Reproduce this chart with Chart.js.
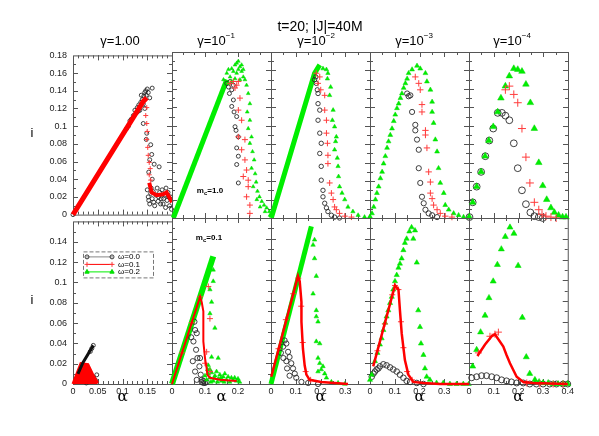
<!DOCTYPE html>
<html>
<head>
<meta charset="utf-8">
<script src="https://cdn.jsdelivr.net/npm/chart.js@4.4.0/dist/chart.umd.min.js"></script>
<style>
  body { margin: 0; background: #fff; width: 599px; height: 436px; position: relative; overflow: hidden;
         font-family: "Liberation Sans", Arial, sans-serif; }
  canvas { position: absolute; }
  .lbl { position: absolute; white-space: nowrap; transform: translate(-50%, -50%); color: #000; }
  .lbl sup { font-size: 8px; position: relative; top: -1px; }
  .mc { font-size: 8px; font-weight: bold; }
  .mc sub { font-size: 6px; }
</style>
</head>
<body>
<script>
// ===== t=20; |J|=40M  -- i versus alpha, 2 rows x 5 gamma columns =====

const legendNames = ["ω=0.0", "ω=0.1", "ω=0.2"];

// ---- top row (m_c = 1.0), pairs of [alpha, i] ----
const t1RedLine = [0,0, 0.142,0.128, 0.149,0.132];
const t1RedTail = [0.154,0.036, 0.159,0.025, 0.169,0.022, 0.182,0.023, 0.189,0.025, 0.195,0.019, 0.200,0.014];
const t1RedDrop = [0.149,0.121, 0.147,0.112, 0.149,0.103, 0.150,0.094, 0.149,0.085, 0.151,0.076, 0.152,0.067,
  0.154,0.059, 0.156,0.052, 0.154,0.045, 0.157,0.039];
const t1Black = [0.118,0.108, 0.122,0.112, 0.125,0.118, 0.128,0.115, 0.130,0.121, 0.133,0.124, 0.135,0.118,
  0.137,0.127, 0.140,0.130, 0.142,0.125, 0.143,0.134, 0.145,0.138, 0.147,0.140, 0.148,0.135, 0.150,0.142,
  0.152,0.138, 0.160,0.143, 0.155,0.132, 0.145,0.120, 0.138,0.135, 0.112,0.100, 0.108,0.097, 0.115,0.106,
  0.132,0.117, 0.142,0.103, 0.149,0.092, 0.157,0.079, 0.159,0.068, 0.164,0.057, 0.174,0.054, 0.153,0.048,
  0.160,0.040, 0.148,0.085, 0.155,0.062, 0.150,0.028, 0.152,0.020, 0.155,0.012, 0.158,0.030, 0.160,0.018,
  0.162,0.026, 0.165,0.010, 0.168,0.022, 0.170,0.030, 0.172,0.015, 0.175,0.025, 0.178,0.018, 0.180,0.028,
  0.182,0.012, 0.185,0.022, 0.188,0.030, 0.190,0.016, 0.192,0.025, 0.195,0.010, 0.197,0.020, 0.199,0.006,
  0.153,0.016, 0.163,0.014, 0.173,0.020, 0.183,0.018, 0.193,0.020, 0.157,0.024, 0.177,0.012, 0.187,0.008, 0,0];

const t2GreenLine = [0.004,0, 0.166,0.150];
const t2Green = [0.156,0.150, 0.166,0.157, 0.171,0.161, 0.176,0.153, 0.181,0.162, 0.186,0.159, 0.191,0.166,
  0.196,0.168, 0.201,0.170, 0.206,0.164, 0.196,0.157, 0.211,0.159, 0.216,0.153, 0.221,0.150, 0.226,0.144,
  0.206,0.150, 0.191,0.151, 0.181,0.148, 0.171,0.146, 0.216,0.161, 0.201,0.161, 0.211,0.166, 0.231,0.135,
  0.236,0.124, 0.228,0.115, 0.236,0.106, 0.231,0.097, 0.241,0.088, 0.236,0.081, 0.244,0.072, 0.249,0.063,
  0.241,0.054, 0.252,0.048, 0.255,0.039, 0.246,0.034, 0.259,0.029, 0.265,0.023, 0.272,0.018, 0.279,0.014,
  0.287,0.011, 0.295,0.007, 0.297,0.003, 0.267,0.012, 0.282,0.007, 0.257,0.020];
const t2Red = [0.176,0.146, 0.186,0.148, 0.196,0.144, 0.201,0.148, 0.191,0.141, 0.206,0.130, 0.201,0.117,
  0.211,0.106, 0.201,0.088, 0.211,0.074, 0.221,0.063, 0.226,0.052, 0.216,0.045, 0.231,0.034, 0.226,0.023,
  0.236,0.014, 0.236,0.005, 0.221,0.085, 0.231,0.041];
const t2Black = [0.166,0.146, 0.171,0.142, 0.176,0.148, 0.181,0.139, 0.186,0.144, 0.174,0.135, 0.186,0.128,
  0.181,0.121, 0.188,0.115, 0.196,0.110, 0.191,0.099, 0.201,0.088, 0.196,0.076, 0.201,0.067, 0.196,0.058,
  0.201,0.038, 0.194,0.095];

const t3GreenLine = [0.001,0, 0.176,0.157, 0.197,0.166];
const t3Green = [0.210,0.162, 0.230,0.157, 0.228,0.151, 0.241,0.142, 0.237,0.133, 0.251,0.117, 0.248,0.106,
  0.257,0.099, 0.264,0.088, 0.261,0.083, 0.271,0.056, 0.273,0.045, 0.277,0.034, 0.287,0.027, 0.298,0.020,
  0.311,0.012, 0.331,0.007, 0.352,0.003, 0.378,0.001, 0.398,0.001, 0.224,0.161, 0.257,0.074, 0.268,0.065];
const t3Red = [0.183,0.157, 0.190,0.146, 0.201,0.139, 0.217,0.133, 0.217,0.117, 0.224,0.106, 0.224,0.092,
  0.228,0.081, 0.230,0.068, 0.230,0.059, 0.237,0.038, 0.244,0.027, 0.251,0.020, 0.257,0.012, 0.264,0.009,
  0.277,0.005, 0.298,0.002, 0.325,0.001, 0.197,0.153];
const t3Black = [0.176,0.150, 0.183,0.146, 0.187,0.139, 0.190,0.135, 0.190,0.124, 0.197,0.117, 0.190,0.106,
  0.197,0.092, 0.203,0.081, 0.197,0.070, 0.203,0.056, 0.203,0.041, 0.210,0.030, 0.210,0.023, 0.217,0.016,
  0.224,0.011, 0.230,0.007, 0.244,0.003, 0.257,0.001, 0.277,0, 0.181,0.153];

const t4Green = [0.001,0.001, 0.008,0.005, 0.015,0.012, 0.022,0.020, 0.028,0.027, 0.035,0.034, 0.042,0.043,
  0.049,0.050, 0.055,0.059, 0.062,0.067, 0.069,0.076, 0.075,0.083, 0.082,0.090, 0.089,0.097, 0.096,0.105,
  0.102,0.112, 0.109,0.119, 0.116,0.124, 0.123,0.130, 0.129,0.135, 0.136,0.141, 0.143,0.146, 0.150,0.151,
  0.156,0.157, 0.170,0.161, 0.190,0.165, 0.203,0.162, 0.224,0.157, 0.230,0.148, 0.244,0.139, 0.251,0.126,
  0.251,0.115, 0.257,0.103, 0.264,0.085, 0.271,0.072, 0.277,0.054, 0.284,0.038, 0.298,0.027, 0.304,0.014,
  0.318,0.009, 0.338,0.005, 0.358,0.003, 0.378,0.001, 0.399,0.001];
const t4Red = [0.183,0.153, 0.197,0.146, 0.203,0.139, 0.210,0.123, 0.210,0.115, 0.224,0.095, 0.224,0.090,
  0.230,0.076, 0.237,0.050, 0.244,0.039, 0.244,0.027, 0.251,0.021, 0.257,0.014, 0.271,0.009, 0.284,0.005,
  0.304,0.002, 0.331,0.001];
const t4Black = [0.150,0.135, 0.156,0.132, 0.163,0.133, 0.170,0.115, 0.183,0.101, 0.183,0.095, 0.190,0.085,
  0.197,0.074, 0.197,0.054, 0.203,0.038, 0.210,0.023, 0.217,0.016, 0.224,0.009, 0.237,0.005, 0.251,0.003,
  0.271,0.001];

const t5Green = [0.001,0.001, 0.015,0.017, 0.031,0.034, 0.049,0.050, 0.065,0.067, 0.080,0.084, 0.098,0.099,
  0.116,0.115, 0.129,0.130, 0.147,0.143, 0.163,0.154, 0.181,0.162, 0.197,0.161, 0.214,0.159, 0.230,0.145,
  0.248,0.125, 0.264,0.097, 0.282,0.060, 0.298,0.035, 0.314,0.020, 0.331,0.011, 0.345,0.006, 0.362,0.003,
  0.378,0.001, 0.392,0.001];
const t5Red = [0.163,0.143, 0.147,0.139, 0.181,0.134, 0.197,0.125, 0.214,0.097, 0.230,0.066, 0.246,0.038,
  0.264,0.017, 0.282,0.009, 0.295,0.004, 0.311,0.002, 0.331,0.001, 0.352,0];
const t5Black = [0.002,0.001, 0.015,0.017, 0.031,0.034, 0.049,0.050, 0.066,0.067, 0.082,0.084, 0.098,0.097,
  0.116,0.114, 0.133,0.114, 0.147,0.111, 0.163,0.106, 0.181,0.081, 0.197,0.054, 0.214,0.030, 0.230,0.015,
  0.248,0.006, 0.264,0.002, 0.282,0.001, 0.298,0];

// ---- bottom row (m_c = 0.1) ----
const b1RedFill = [0,0, 0.016,0.020, 0.030,0.019, 0.042,0.007, 0.050,0.001];
const b1BlackLine = [0.010,0.010, 0.020,0.021, 0.041,0.038];
const b1Black = [0.038,0.035, 0.041,0.038, 0.035,0.032, 0.041,0.007, 0.048,0.009, 0.028,0.004, 0.034,0.003,
  0.025,0.002, 0.027,0.001, 0.030,0.002, 0.045,0.004, 0.022,0.003];

const b2GreenLine = [0,0, 0.125,0.123];
const b2Green = [0.125,0.110, 0.125,0.099, 0.115,0.091, 0.120,0.079, 0.115,0.068, 0.130,0.054, 0.120,0.026,
  0.140,0.025, 0.110,0.018, 0.115,0.014, 0.100,0.008, 0.105,0.004, 0.110,0.010, 0.115,0.006, 0.120,0.011,
  0.125,0.003, 0.130,0.008, 0.135,0.012, 0.140,0.005, 0.145,0.009, 0.150,0.003, 0.155,0.007, 0.160,0.010,
  0.165,0.004, 0.170,0.007, 0.175,0.002, 0.180,0.006, 0.185,0.004, 0.190,0.006, 0.195,0.003, 0.200,0.005,
  0.205,0.002, 0.108,0.014, 0.118,0.002, 0.128,0.006, 0.138,0.002, 0.148,0.006, 0.158,0.002];
const b2RedLine = [0,0, 0.085,0.084, 0.090,0.079, 0.095,0.070, 0.095,0.057, 0.095,0.041, 0.100,0.025,
  0.105,0.015, 0.107,0.009, 0.115,0.006, 0.145,0.004, 0.196,0.003];
const b2Red = [0.110,0.094, 0.115,0.063, 0.105,0.031, 0.100,0.020, 0.115,0.012, 0.085,0.084, 0.060,0.059, 0.030,0.030];
const b2Black = [0.070,0.052, 0.075,0.049, 0.065,0.041, 0.073,0.033, 0.077,0.025, 0.063,0.022, 0.083,0.017,
  0.070,0.012, 0.087,0.009, 0.075,0.004, 0.090,0.002, 0.095,0.001, 0.068,0.060, 0.058,0.045, 0.085,0.025,
  0.095,0.003, 0.100,0.001, 0.105,0.002, 0.090,0.004];

const b3GreenLine = [0,0, 0.163,0.152];
const b3Green = [0.176,0.139, 0.170,0.134, 0.176,0.121, 0.183,0.104, 0.170,0.087, 0.183,0.071, 0.183,0.065,
  0.190,0.060, 0.183,0.041, 0.197,0.039, 0.190,0.025, 0.197,0.020, 0.203,0.014, 0.217,0.010, 0.224,0.006,
  0.244,0.002, 0.271,0.001, 0.298,0, 0.190,0.012, 0.210,0.017];
const b3RedLine = [0.001,0.007, 0.109,0.104, 0.116,0.099, 0.123,0.079, 0.123,0.060, 0.129,0.034, 0.136,0.018,
  0.143,0.009, 0.156,0.004, 0.203,0.002, 0.257,0.001, 0.311,0];
const b3Red = [0.030,0.034, 0.060,0.062, 0.090,0.087, 0.110,0.102, 0.122,0.075, 0.128,0.040, 0.140,0.012, 0.160,0.004];
const b3Black = [0.055,0.042, 0.062,0.039, 0.049,0.036, 0.069,0.031, 0.075,0.026, 0.062,0.022, 0.082,0.020,
  0.089,0.015, 0.096,0.010, 0.102,0.006, 0.123,0.002, 0.150,0.001, 0.190,0, 0.040,0.030, 0.050,0.025,
  0.065,0.015, 0.075,0.008];

const b4Green = [0,0.004, 0.007,0.009, 0.020,0.022, 0.030,0.030, 0.040,0.038, 0.047,0.044, 0.054,0.052,
  0.061,0.059, 0.067,0.065, 0.074,0.071, 0.081,0.078, 0.088,0.084, 0.094,0.091, 0.101,0.099, 0.108,0.105,
  0.115,0.112, 0.121,0.116, 0.128,0.121, 0.135,0.129, 0.141,0.136, 0.148,0.140, 0.159,0.147, 0.168,0.151,
  0.182,0.148, 0.175,0.140, 0.189,0.117, 0.195,0.071, 0.202,0.055, 0.206,0.039, 0.216,0.028, 0.222,0.015,
  0.229,0.007, 0.242,0.004, 0.269,0.001, 0.296,0.001, 0.323,0, 0.350,0, 0.377,0, 0.399,0];
const b4RedLine = [0.013,0.017, 0.101,0.095, 0.115,0.091, 0.121,0.071, 0.128,0.049, 0.141,0.023, 0.155,0.009,
  0.175,0.002, 0.216,0.001, 0.283,0, 0.400,0];
const b4Red = [0.030,0.032, 0.060,0.058, 0.090,0.086, 0.101,0.095, 0.115,0.091, 0.125,0.060, 0.135,0.035,
  0.150,0.012, 0.170,0.004];
const b4Black = [0.007,0.007, 0.014,0.010, 0.020,0.012, 0.027,0.014, 0.034,0.015, 0.040,0.017, 0.054,0.019,
  0.067,0.018, 0.081,0.016, 0.094,0.014, 0.108,0.012, 0.121,0.009, 0.135,0.006, 0.148,0.003, 0.162,0.002,
  0.189,0.001, 0.216,0];

const b5Green = [0.015,0.017, 0.031,0.033, 0.047,0.050, 0.065,0.066, 0.081,0.083, 0.098,0.099, 0.115,0.115,
  0.131,0.130, 0.147,0.142, 0.166,0.151, 0.182,0.145, 0.199,0.114, 0.216,0.064, 0.232,0.026, 0.246,0.010,
  0.267,0.004, 0.284,0.002, 0.300,0.001, 0.321,0.001, 0.341,0, 0.361,0, 0.381,0, 0.400,0];
const b5RedLine = [0.034,0.027, 0.065,0.038, 0.092,0.046, 0.105,0.048, 0.139,0.036, 0.152,0.028, 0.166,0.020,
  0.193,0.007, 0.220,0.002, 0.260,0.001, 0.400,0];
const b5Red = [0.038,0.030, 0.085,0.046, 0.105,0.048, 0.119,0.050, 0.234,0.001, 0.287,0, 0.341,0, 0.381,0];
const b5Black = [0.011,0.006, 0.031,0.007, 0.051,0.008, 0.071,0.008, 0.092,0.007, 0.112,0.006, 0.132,0.004,
  0.152,0.003, 0.172,0.002, 0.193,0.001, 0.220,0.001, 0.246,0, 0.273,0, 0.300,0, 0.327,0, 0.354,0, 0.381,0, 0.400,0];

// ---- axes ----
const xMax = [0.2, 0.3, 0.4, 0.4, 0.4];
const xStep = [0.05, 0.1, 0.1, 0.1, 0.1];
const xMinor = [0.01, 0.1 / 3, 0.05, 0.05, 0.05];
const yMax = [0.18, 0.16];

// layout of the panel grid (page pixels)
const colLeft = [73, 172, 271, 370, 469];
const rowTop = [52, 218];
const PW = 99, PH = 166, P = 8;
const FONT = '"Liberation Sans", Arial, sans-serif';
const RED = "#ff0000", GREEN = "#00ee00";

function pts(a) {
    const out = [];
    for (let k = 0; k < a.length; k += 2) out.push({ x: a[k], y: a[k + 1] });
    return out;
}
function circles(a, r) {
    return { data: pts(a), pointStyle: "circle", pointRadius: r, borderColor: "#2a2a2a",
             backgroundColor: "rgba(0,0,0,0)", borderWidth: 0.9, order: 3, clip: P };
}
function crosses(a, r) {
    return { data: pts(a), pointStyle: "cross", pointRadius: r, borderColor: "#ff3c3c",
             backgroundColor: "#ff3c3c", borderWidth: 1, order: 1, clip: P };
}
function tris(a, r) {
    return { data: pts(a), pointStyle: "triangle", pointRadius: r, borderColor: "#00d800",
             backgroundColor: GREEN, borderWidth: 0.5, order: 2, clip: P };
}
function line(a, color, w, order, fill) {
    return { data: pts(a), showLine: true, pointRadius: 0, borderColor: color, backgroundColor: color,
             borderWidth: w, order: order, fill: fill ? "origin" : false, clip: P };
}

const panels = [
    { r: 0, c: 0, sets: [line(t1RedLine, RED, 5, 0), line(t1RedTail, RED, 4, 0), crosses(t1RedDrop, 2.5), circles(t1Black, 2)] },
    { r: 0, c: 1, sets: [line(t2GreenLine, GREEN, 5, 5), tris(t2Green, 2.2), crosses(t2Red, 3), circles(t2Black, 2)] },
    { r: 0, c: 2, sets: [line(t3GreenLine, GREEN, 5, 5), tris(t3Green, 2.5), crosses(t3Red, 3), circles(t3Black, 2.2)] },
    { r: 0, c: 3, sets: [tris(t4Green, 2.8), crosses(t4Red, 3.2), circles(t4Black, 2.6)] },
    { r: 0, c: 4, sets: [tris(t5Green, 3.8), crosses(t5Red, 4), circles(t5Black, 3.4)] },
    { r: 1, c: 0, sets: [line(b1RedFill, RED, 3, 1, true), line(b1BlackLine, "#111", 3, 0), circles(b1Black, 2)] },
    { r: 1, c: 1, sets: [line(b2GreenLine, GREEN, 6, 5), tris(b2Green, 2.5), line(b2RedLine, RED, 2, 0), crosses(b2Red, 3), circles(b2Black, 2.6)] },
    { r: 1, c: 2, sets: [line(b3GreenLine, GREEN, 5, 5), tris(b3Green, 2.6), line(b3RedLine, RED, 2.5, 0), crosses(b3Red, 3), circles(b3Black, 2.6)] },
    { r: 1, c: 3, sets: [tris(b4Green, 3), line(b4RedLine, RED, 2.5, 0), crosses(b4Red, 3), circles(b4Black, 2.8)] },
    { r: 1, c: 4, sets: [tris(b5Green, 3.5), line(b5RedLine, RED, 2.5, 0), crosses(b5Red, 3.5), circles(b5Black, 3)] }
];

const fmt = v => String(+v.toFixed(2));

// box round each panel with inward ticks on all four sides
const frame = {
    id: "frame",
    beforeDatasetsDraw(chart, args, o) {
        const { ctx, chartArea: a, scales: { x, y } } = chart;
        ctx.save();
        ctx.strokeStyle = "#555";
        ctx.lineWidth = 1;
        ctx.strokeRect(a.left + 0.5, a.top + 0.5, a.right - a.left, a.bottom - a.top);
        const mark = (axis, step, len) => {
            const n = Math.round((axis.max - axis.min) / step);
            ctx.beginPath();
            for (let k = 1; k < n; k++) {
                const p = Math.round(axis.getPixelForValue(axis.min + k * step)) + 0.5;
                if (axis === x) {
                    ctx.moveTo(p, a.bottom); ctx.lineTo(p, a.bottom - len);
                    ctx.moveTo(p, a.top); ctx.lineTo(p, a.top + len);
                } else {
                    ctx.moveTo(a.left, p); ctx.lineTo(a.left + len, p);
                    ctx.moveTo(a.right, p); ctx.lineTo(a.right - len, p);
                }
            }
            ctx.stroke();
        };
        mark(x, o.xMinor, 3);
        mark(x, o.xStep, 5);
        mark(y, 0.01, 3);
        mark(y, 0.02, 5);
        ctx.restore();
    }
};

// dashed legend box inside the lower-left panel
const legendBox = {
    id: "legendBox",
    afterDraw(chart) {
        const { ctx, chartArea: a } = chart;
        const x0 = a.left + 10, y0 = a.top + 30;
        const styles = [
            { line: "#888", stroke: "#333", fill: "rgba(0,0,0,0)", style: "circle", r: 2 },
            { line: RED, stroke: "#ff3c3c", fill: "#ff3c3c", style: "cross", r: 2.5 },
            { line: GREEN, stroke: "#00d800", fill: GREEN, style: "triangle", r: 2.5 }
        ];
        ctx.save();
        ctx.setLineDash([4, 2]);
        ctx.strokeStyle = "#777";
        ctx.lineWidth = 1;
        ctx.strokeRect(x0 + 0.5, y0 + 0.5, 70, 26);
        ctx.setLineDash([]);
        legendNames.forEach((name, k) => {
            const s = styles[k];
            const yy = y0 + 5.5 + k * 7.5;
            ctx.strokeStyle = s.line;
            ctx.lineWidth = 1;
            ctx.beginPath(); ctx.moveTo(x0 + 3, yy); ctx.lineTo(x0 + 30, yy); ctx.stroke();
            ctx.strokeStyle = s.stroke;
            ctx.fillStyle = s.fill;
            [x0 + 4, x0 + 29].forEach(px => Chart.helpers.drawPoint(ctx,
                { pointStyle: s.style, radius: s.r, borderWidth: 1, rotation: 0 }, px, yy));
            ctx.fillStyle = "#000";
            ctx.font = '8px ' + FONT;
            ctx.textBaseline = "middle";
            ctx.fillText(name, x0 + 35, yy);
        });
        ctx.restore();
    }
};

panels.forEach(p => {
    const { r, c } = p;
    const padL = c === 0 ? colLeft[0] : P;
    const padB = r === 1 ? 30 : P;
    const w = padL + PW + P, h = P + PH + padB;
    const cv = document.createElement("canvas");
    cv.width = w; cv.height = h;
    cv.style.left = (colLeft[c] - padL) + "px";
    cv.style.top = (rowTop[r] - P) + "px";
    cv.style.width = w + "px"; cv.style.height = h + "px";
    document.body.appendChild(cv);

    new Chart(cv, {
        type: "scatter",
        data: { datasets: p.sets },
        options: {
            responsive: false,
            animation: false,
            events: [],
            layout: { padding: { left: c === 0 ? 0 : P, right: P, top: P, bottom: r === 1 ? 0 : P } },
            scales: {
                x: {
                    type: "linear", min: 0, max: xMax[c], display: r === 1,
                    afterFit: r === 1 ? (s => { s.height = 30; }) : undefined,
                    grid: { display: false, drawTicks: false },
                    border: { display: false },
                    ticks: {
                        stepSize: xStep[c], autoSkip: false, maxRotation: 0, padding: 2,
                        color: "#222", font: { family: FONT, size: 9 },
                        callback: v => (c < 4 && Math.abs(v - xMax[c]) < 1e-9) ? "" : fmt(v)
                    },
                    title: { display: true, text: "α", color: "#000",
                             font: { family: '"DejaVu Serif", serif', size: 15 }, padding: { top: 0, bottom: 8 } }
                },
                y: {
                    type: "linear", min: 0, max: yMax[r], display: c === 0,
                    afterFit: c === 0 ? (s => { s.width = colLeft[0]; }) : undefined,
                    grid: { display: false, drawTicks: false },
                    border: { display: false },
                    ticks: {
                        stepSize: 0.02, padding: 6, color: "#222", font: { family: FONT, size: 9 },
                        callback: v => (r === 1 && Math.abs(v - 0.16) < 1e-9) ? "" : fmt(v)
                    }
                }
            },
            plugins: {
                legend: { display: false },
                tooltip: { enabled: false },
                frame: { xStep: xStep[c], xMinor: xMinor[c] }
            }
        },
        plugins: (r === 1 && c === 0) ? [frame, legendBox] : [frame]
    });
});
</script>

<div class="lbl" style="left:320px;top:26px;font-size:14px">t=20; |J|=40M</div>
<div class="lbl" style="left:120px;top:40px;font-size:13px">γ=1.00</div>
<div class="lbl" style="left:216px;top:40px;font-size:13px">γ=10<sup>−1</sup></div>
<div class="lbl" style="left:316px;top:40px;font-size:13px">γ=10<sup>−2</sup></div>
<div class="lbl" style="left:414px;top:40px;font-size:13px">γ=10<sup>−3</sup></div>
<div class="lbl" style="left:512px;top:40px;font-size:13px">γ=10<sup>−4</sup></div>
<div class="lbl" style="left:32px;top:132px;font-size:13px">i</div>
<div class="lbl" style="left:32px;top:299px;font-size:13px">i</div>
<div class="lbl mc" style="left:210px;top:191px">m<sub>c</sub>=1.0</div>
<div class="lbl mc" style="left:209px;top:238px">m<sub>c</sub>=0.1</div>
</body>
</html>
